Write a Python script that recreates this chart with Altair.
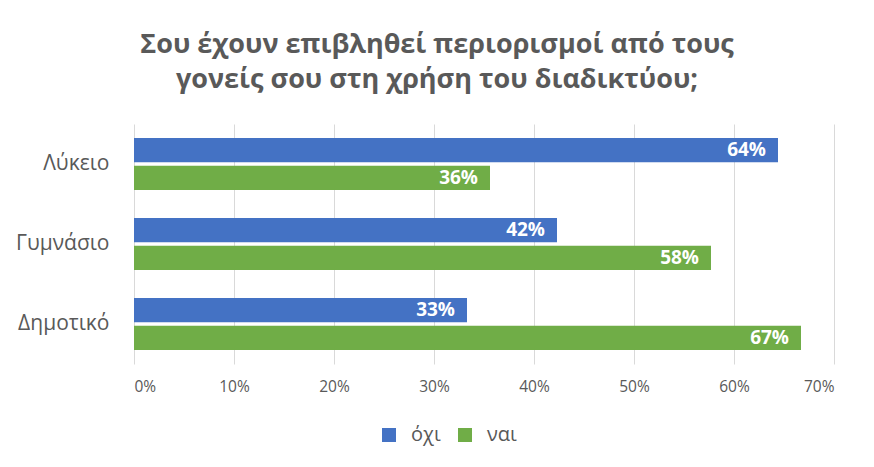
import altair as alt
import pandas as pd

categories = ["Λύκειο", "Γυμνάσιο", "Δημοτικό"]
series = ["όχι", "ναι"]
ochi = [0.644, 0.423, 0.333]
nai = [0.356, 0.577, 0.667]
colors = ["#4472C4", "#70AD47"]
x_ticks = [0, 0.1, 0.2, 0.3, 0.4, 0.5, 0.6, 0.7]
title_lines = ["Σου έχουν επιβληθεί περιορισμοί από τους", "γονείς σου στη χρήση του διαδικτύου;"]

rows = []
for c, o, n in zip(categories, ochi, nai):
    rows.append({"cat": c, "series": series[0], "value": o})
    rows.append({"cat": c, "series": series[1], "value": n})
df = pd.DataFrame(rows)

FONT = "Open Sans"
GRAY = "#595959"

base = alt.Chart(df).encode(
    y=alt.Y(
        "cat:N",
        sort=categories,
        scale=alt.Scale(paddingInner=0.35, paddingOuter=0.175),
        axis=alt.Axis(
            title=None, ticks=False, domain=False, labelFontSize=21,
            labelColor=GRAY, labelFont=FONT, labelPadding=25,
        ),
    ),
    yOffset=alt.YOffset("series:N", sort=series, scale=alt.Scale(paddingInner=0.12, paddingOuter=0)),
    x=alt.X(
        "value:Q",
        scale=alt.Scale(domain=[0, 0.7]),
        axis=alt.Axis(
            title=None, values=x_ticks, format=".0%", ticks=False, domain=False,
            grid=True, gridColor="#d9d9d9", labelFontSize=15.5, labelColor=GRAY,
            labelFont=FONT, labelPadding=15,
        ),
    ),
)

bars = base.mark_bar().encode(
    color=alt.Color(
        "series:N",
        sort=series,
        scale=alt.Scale(domain=series, range=colors),
        legend=alt.Legend(
            title=None, orient="none", legendX=245, legendY=301, direction="horizontal",
            symbolType="square", symbolSize=196, symbolStrokeWidth=0, padding=0,
            labelFontSize=20, labelColor=GRAY, labelFont=FONT, columnPadding=14,
            labelOffset=12,
        ),
    )
)

labels = base.mark_text(
    align="right", dx=-12, color="white", fontWeight="bold", fontSize=19, font=FONT
).encode(text=alt.Text("value:Q", format=".0%"))

chart = (
    alt.layer(bars, labels)
    .properties(
        width=700,
        height=240,
        autosize=alt.AutoSizeParams(type="none"),
        padding={"left": 126, "top": 116, "right": 32, "bottom": 95},
        title=alt.Title(
            title_lines, fontSize=27, font=FONT, fontWeight="bold", color=GRAY,
            anchor="middle", dx=-47, lineHeight=35, offset=30,
        ),
    )
    .configure_view(stroke=None)
)

chart.save("out.html", embed_options={"renderer": "svg", "actions": False})
